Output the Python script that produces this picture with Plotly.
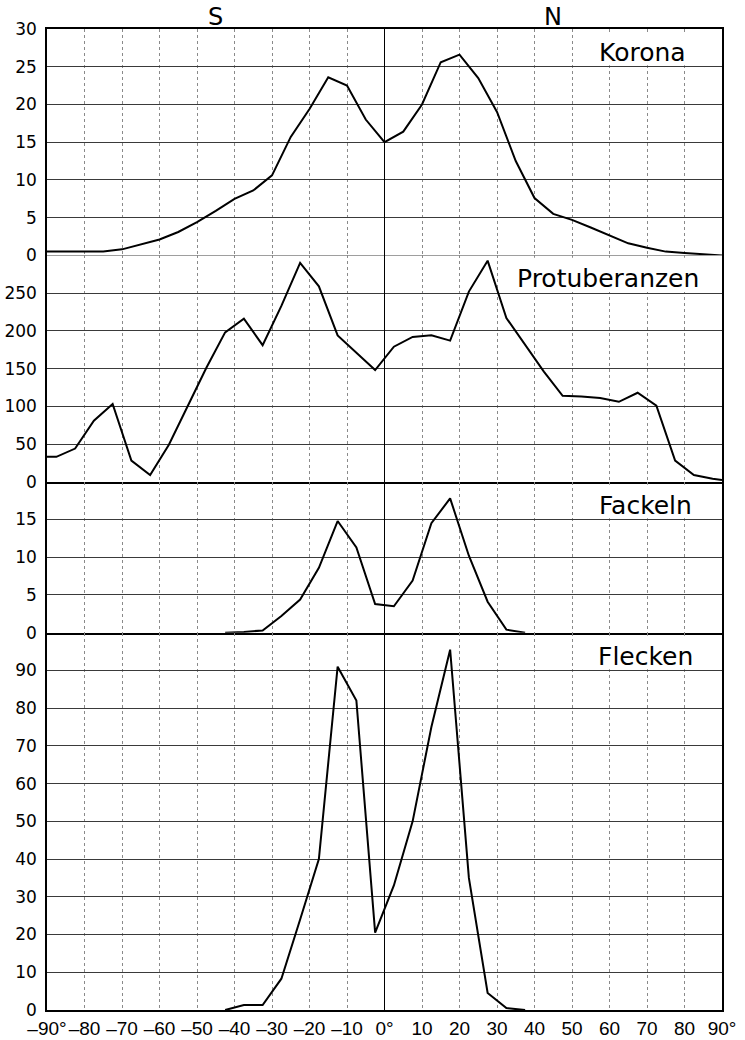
import plotly.graph_objects as go
from plotly.subplots import make_subplots

# ---------------- data ----------------
lat_korona = [-90, -85, -80, -75, -70, -65, -60, -55, -50, -45, -40, -35, -30, -25, -20, -15, -10, -5,
              0, 5, 10, 15, 20, 25, 30, 35, 40, 45, 50, 55, 60, 65, 70, 75, 80, 85, 90]
korona = [0.5, 0.5, 0.5, 0.5, 0.8, 1.4, 2.1, 3.1, 4.4, 5.9, 7.5, 8.6, 10.6, 15.7, 19.4, 23.6, 22.5, 18.0,
          15.0, 16.4, 20.0, 25.6, 26.6, 23.5, 19.0, 12.5, 7.6, 5.5, 4.7, 3.7, 2.6, 1.6, 1.0, 0.5, 0.3, 0.15, 0.0]

lat_prot = [-90, -87.5, -82.5, -77.5, -72.5, -67.5, -62.5, -57.5, -52.5, -47.5, -42.5, -37.5, -32.5,
            -27.5, -22.5, -17.5, -12.5, -7.5, -2.5, 2.5, 7.5, 12.5, 17.5, 22.5, 27.5, 32.5, 37.5,
            42.5, 47.5, 52.5, 57.5, 62.5, 67.5, 72.5, 77.5, 82.5, 87.5, 90]
protuberanzen = [33, 33, 44, 81, 103, 28, 9, 49, 100, 151, 198, 216, 181,
                 233, 290, 259, 194, 171, 148, 179, 192, 194, 187, 252, 293, 217, 182,
                 146, 114, 113, 111, 106, 118, 101, 28, 9, 4, 2.5]

lat_fl = [-42.5, -37.5, -32.5, -27.5, -22.5, -17.5, -12.5, -7.5, -2.5,
          2.5, 7.5, 12.5, 17.5, 22.5, 27.5, 32.5, 37.5]
fackeln = [0, 0.1, 0.3, 2.2, 4.4, 8.6, 14.8, 11.3, 3.8,
           3.5, 6.9, 14.5, 17.8, 10.2, 4.1, 0.4, 0.0]
flecken = [0, 1.3, 1.3, 8.3, 24, 40, 91, 82, 20.5,
           33, 50, 75, 95.5, 35, 4.5, 0.5, 0.0]

x_tickvals = [-90, -80, -70, -60, -50, -40, -30, -20, -10, 0, 10, 20, 30, 40, 50, 60, 70, 80, 90]
x_ticktext = ["–90°", "–80", "–70", "–60", "–50", "–40", "–30", "–20", "–10", "0°",
              "10", "20", "30", "40", "50", "60", "70", "80", "90°"]

panel_names = ["Korona", "Protuberanzen", "Fackeln", "Flecken"]
panel_ranges = [[0, 30], [0, 300], [0, 20], [0, 100]]
panel_ticks = [[0, 5, 10, 15, 20, 25, 30],
               [0, 50, 100, 150, 200, 250],
               [0, 5, 10, 15],
               [0, 10, 20, 30, 40, 50, 60, 70, 80, 90]]
series = [(lat_korona, korona), (lat_prot, protuberanzen), (lat_fl, fackeln), (lat_fl, flecken)]

# ---------------- figure ----------------
fig = make_subplots(rows=4, cols=1, shared_xaxes=True, vertical_spacing=0,
                    row_heights=[6, 6, 4, 10])

for i, (xs, ys) in enumerate(series):
    fig.add_trace(go.Scatter(x=xs, y=ys, mode="lines",
                             line=dict(color="black", width=2),
                             showlegend=False, hoverinfo="skip"),
                  row=i + 1, col=1)

fig.update_layout(width=745, height=1040,
                  margin=dict(l=47, r=23, t=29, b=30),
                  paper_bgcolor="white", plot_bgcolor="white",
                  showlegend=False)

fig.update_xaxes(range=[-90, 90], tickvals=x_tickvals, ticktext=x_ticktext,
                 tickangle=0, automargin=False,
                 showgrid=True, gridcolor="#8a8a8a", gridwidth=1, griddash="dot",
                 zeroline=True, zerolinecolor="black", zerolinewidth=1.3,
                 showline=True, linecolor="black", linewidth=2, mirror=False,
                 ticks="", ticklen=0,
                 tickfont=dict(family="Liberation Sans Narrow, Liberation Sans, sans-serif",
                               size=19, color="black"))
fig.update_xaxes(mirror=True, row=1, col=1)

for i in range(4):
    fig.update_yaxes(range=panel_ranges[i], tickvals=panel_ticks[i],
                     showgrid=True, gridcolor="#3a3a3a", gridwidth=1,
                     zeroline=False, showline=True, linecolor="black",
                     linewidth=1.5, mirror=True, automargin=False,
                     ticks="outside", ticklen=5, tickcolor="rgba(0,0,0,0)",
                     tickfont=dict(family="DejaVu Sans", size=17, color="black"),
                     row=i + 1, col=1)

# white boxes behind the panel names
boxes = [("x", "y", 52, 89.7, 25.2, 29.6),
         ("x2", "y2", 32, 89.7, 251.5, 297),
         ("x3", "y3", 52, 89.7, 15.15, 19.6),
         ("x4", "y4", 52, 89.7, 90.3, 99.2)]
for xr, yr, x0, x1, y0, y1 in boxes:
    fig.add_shape(type="rect", xref=xr, yref=yr, x0=x0, x1=x1, y0=y0, y1=y1,
                  fillcolor="white", line_width=0, layer="between")

label_pos = [("x", "y", 68.8, 26.9), ("x2", "y2", 59.7, 270),
             ("x3", "y3", 69.6, 16.8), ("x4", "y4", 69.7, 93.8)]
for name, (xr, yr, lx, ly) in zip(panel_names, label_pos):
    fig.add_annotation(x=lx, y=ly, xref=xr, yref=yr, text=name, showarrow=False,
                       xanchor="center", yanchor="middle",
                       font=dict(family="DejaVu Sans", size=25, color="black"))

for t, xv in (("S", -45), ("N", 45)):
    fig.add_annotation(x=xv, y=1.012, xref="x", yref="paper", text=t, showarrow=False,
                       xanchor="center", yanchor="middle",
                       font=dict(family="DejaVu Sans", size=24, color="black"))

fig.write_html("out.html", config={"displayModeBar": False},
               post_script="document.body.style.margin='0';document.body.style.overflow='hidden';")
